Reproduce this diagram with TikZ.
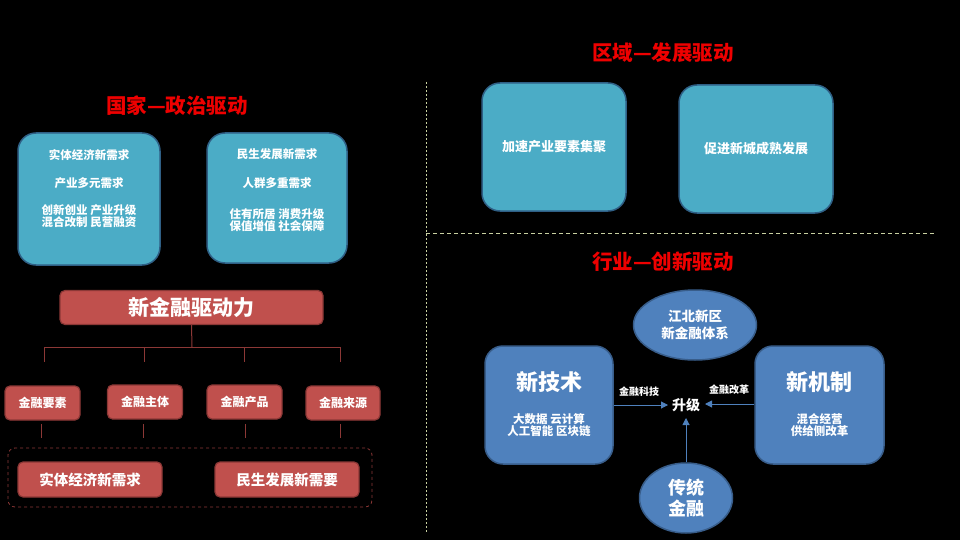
\documentclass[tikz,border=0pt]{standalone}
\usepackage{fontspec}
\setmainfont{Noto Sans CJK SC}
\usetikzlibrary{arrows.meta,shapes.geometric}
\definecolor{cyanbox}{HTML}{4BACC6}
\definecolor{cyanline}{HTML}{2F5F85}
\definecolor{redbox}{HTML}{C0504D}
\definecolor{redline}{HTML}{8C3836}
\definecolor{bluebox}{HTML}{4F81BD}
\definecolor{blueline}{HTML}{385D8A}
\definecolor{titlered}{HTML}{EE0000}
\definecolor{divider}{HTML}{C8D0A0}
\tikzset{
  x=1pt,y=-1pt,
  title/.style={text=titlered,font=\bfseries\fontsize{20.5}{24}\selectfont,inner sep=0},
  cyanb/.style={draw=cyanline,line width=1.5pt,fill=cyanbox,rounded corners=18pt,text=white,font=\bfseries\fontsize{11.5}{13}\selectfont,align=center},
  redb/.style={draw=redline,line width=1.2pt,fill=redbox,rounded corners=5pt,text=white,font=\bfseries\fontsize{11.5}{13}\selectfont,align=center,inner sep=0},
  blueb/.style={draw=blueline,line width=1.5pt,fill=bluebox,rounded corners=18pt,text=white,align=center},
  bluee/.style={ellipse,draw=blueline,line width=1.5pt,fill=bluebox,text=white,align=center,inner sep=0},
  wtxt/.style={text=white,font=\bfseries\fontsize{11.5}{13}\selectfont,inner sep=0,align=center},
  conn/.style={draw=redline,line width=1pt},
  arr/.style={draw=bluebox,line width=1pt,-{Triangle[length=7pt,width=7pt]}},
}
\begin{document}
\begin{tikzpicture}
\fill[black] (0,0) rectangle (960,540);
\useasboundingbox (0,0) rectangle (960,540);
% ---------- left: 国家 ----------
\node[title] (t1) at (177,106) {国家—政治驱动};
\node[cyanb,minimum width=142pt,minimum height=132pt] (b1) at (89,199) {};
\node[wtxt] (b1a) at (89,155) {实体经济新需求};
\node[wtxt] (b1b) at (89,183) {产业多元需求};
\node[wtxt] (b1c) at (89,216) {创新创业 产业升级\\[-1.5pt]混合改制 民营融资};
\node[cyanb,minimum width=140pt,minimum height=130pt] (b2) at (277,198) {};
\node[wtxt] (b2a) at (277,154) {民生发展新需求};
\node[wtxt] (b2b) at (277,183) {人群多重需求};
\node[wtxt] (b2c) at (277,220) {住有所居 消费升级\\[-1.5pt]保值增值 社会保障};
\node[redb,minimum width=263pt,minimum height=34pt,font=\bfseries\fontsize{21}{23}\selectfont] (core) at (191.5,307.5) {新金融驱动力};
\coordinate (hub) at (192,347);
\coordinate (d1) at (44,362);
\coordinate (d2) at (144,362);
\coordinate (d3) at (244,362);
\coordinate (d4) at (340,362);
\draw[conn] (core.south) -- (hub);
\draw[conn] (d1) -- (44,347) -- (340,347) -- (d4);
\draw[conn] (144,347) -- (d2);
\draw[conn] (244,347) -- (d3);
\node[redb,minimum width=75pt,minimum height=34pt,font=\bfseries\fontsize{12}{14}\selectfont] (f1) at (42.5,403) {金融要素};
\node[redb,minimum width=75pt,minimum height=34pt,font=\bfseries\fontsize{12}{14}\selectfont] (f2) at (145,402) {金融主体};
\node[redb,minimum width=75pt,minimum height=34pt,font=\bfseries\fontsize{12}{14}\selectfont] (f3) at (244.5,402) {金融产品};
\node[redb,minimum width=74pt,minimum height=34pt,font=\bfseries\fontsize{12}{14}\selectfont] (f4) at (343,403) {金融来源};
\coordinate (e1) at (41,438);
\coordinate (e2) at (143,438);
\coordinate (e3) at (245,438);
\coordinate (e4) at (340,438);
\draw[conn] (41,424) -- (e1);
\draw[conn] (143,424) -- (e2);
\draw[conn] (245,424) -- (e3);
\draw[conn] (340,424) -- (e4);
\node[draw=redline,dashed,line width=0.8pt,rounded corners=7pt,minimum width=364pt,minimum height=59pt] (grp) at (190,477.5) {};
\node[redb,minimum width=144pt,minimum height=35pt,font=\bfseries\fontsize{14.5}{16}\selectfont] (g1) at (90,479.5) {实体经济新需求};
\node[redb,minimum width=144pt,minimum height=35pt,font=\bfseries\fontsize{14.5}{16}\selectfont] (g2) at (287,479.5) {民生发展新需要};
% ---------- dividers ----------
\coordinate (v1) at (426,82);
\coordinate (v2) at (426,532);
\coordinate (h1) at (426,233);
\coordinate (h2) at (935,233);
\draw[divider,line width=0.7pt,dash pattern=on 2pt off 2pt] (v1) -- (v2);
\draw[divider,line width=0.8pt,dash pattern=on 4pt off 3pt] (h1) -- (h2);
% ---------- right top: 区域 ----------
\node[title] (t2) at (663,53) {区域—发展驱动};
\node[cyanb,minimum width=144pt,minimum height=128pt,font=\bfseries\fontsize{13}{15}\selectfont] (b3) at (554,147) {加速产业要素集聚};
\node[cyanb,minimum width=154pt,minimum height=128pt,font=\bfseries\fontsize{13}{15}\selectfont] (b4) at (756,149) {促进新城成熟发展};
% ---------- right bottom: 行业 ----------
\node[title] (t3) at (663,262) {行业—创新驱动};
\node[bluee,minimum width=123pt,minimum height=70pt,font=\bfseries\fontsize{13.5}{17}\selectfont] (jb) at (695,325) {江北新区\\新金融体系};
\node[blueb,minimum width=128pt,minimum height=118pt] (xj) at (549,405) {};
\node[wtxt,font=\bfseries\fontsize{22}{24}\selectfont] (xj1) at (549,382) {新技术};
\node[wtxt] (xj2) at (549,425) {大数据 云计算\\[-1.5pt]人工智能 区块链};
\node[blueb,minimum width=129pt,minimum height=118pt] (xm) at (819.5,405) {};
\node[wtxt,font=\bfseries\fontsize{22}{24}\selectfont] (xm1) at (819.5,382) {新机制};
\node[wtxt] (xm2) at (819.5,425) {混合经营\\[-1.5pt]供给侧改革};
\node[wtxt,font=\bfseries\fontsize{14}{16}\selectfont] (sj) at (686,405) {升级};
\node[bluee,minimum width=93pt,minimum height=70pt,font=\bfseries\fontsize{18}{21}\selectfont] (ct) at (686,498) {传统\\金融};
\coordinate (a1) at (668,405);
\coordinate (a2) at (705,404);
\coordinate (a3) at (686,418);
\draw[arr] (xj.east |- a1) -- (a1);
\draw[arr] (xm.west |- a2) -- (a2);
\draw[arr] (ct.north) -- (a3);
\node[wtxt,font=\bfseries\fontsize{10}{12}\selectfont] (l1) at (639,392) {金融科技};
\node[wtxt,font=\bfseries\fontsize{10}{12}\selectfont] (l2) at (729,390) {金融改革};
\end{tikzpicture}
\end{document}
